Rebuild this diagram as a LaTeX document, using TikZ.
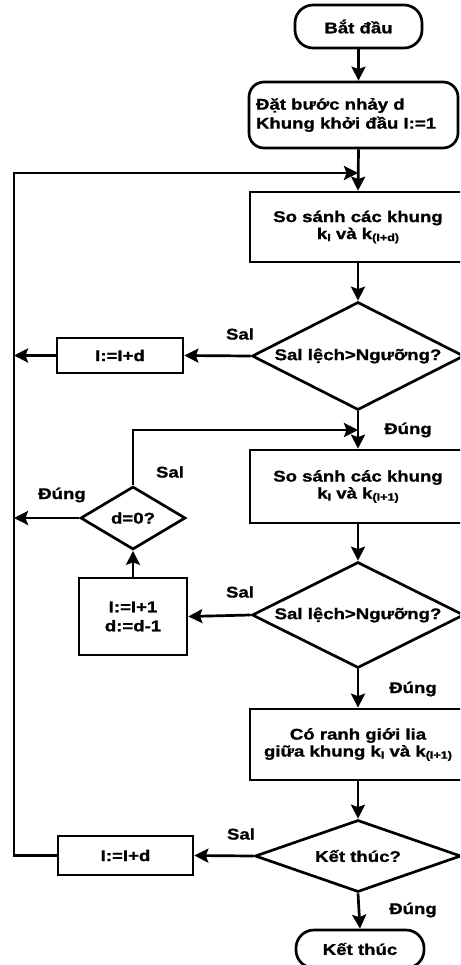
\documentclass[tikz,border=0pt]{standalone}
\usepackage{fontspec}
\setmainfont{Liberation Sans}[FakeStretch=1.2,FakeBold=1.2]
\usetikzlibrary{shapes.geometric,arrows.meta}
\newcommand{\mysub}[1]{\raisebox{-0.25ex}{\fontsize{10.5}{11}\selectfont #1}}
\begin{document}
\begin{tikzpicture}[x=1pt,y=-1pt,
  every node/.style={font=\bfseries\fontsize{15.5}{19}\selectfont},
  ln/.style={line width=2.7pt},
  arr/.style={line width=2.7pt,-{Stealth[length=14pt,width=14pt,inset=2.5pt]}},
  box/.style={draw,line width=2.7pt,rectangle,inner sep=0pt,align=center},
  term/.style={box,rounded corners=18pt},
  dec/.style={draw,line width=2.7pt,diamond,inner sep=0pt,shape aspect=2,align=center},
  lab/.style={inner sep=0pt}]
\clip (0,0) rectangle (460,965);
% main column
\node[term,minimum width=127,minimum height=43] (start) at (358.5,26.5) {Bắt đầu};
\node[box,rounded corners=15pt,minimum width=209,minimum height=66,align=left,text width=195] (init) at (353.5,115) {Đặt bước nhảy d\\Khung khởi đầu I:=1};
\node[box,minimum width=216,minimum height=70] (cmp1) at (358,227) {So sánh các khung\\[-2pt]k\mysub{I} và k\mysub{(I+d)}};
\node[dec,minimum width=212,minimum height=108] (dec1) at (358,356) {Sal lệch>Ngưỡng?};
\node[box,minimum width=216,minimum height=73] (cmp2) at (358,486.5) {So sánh các khung\\[-2pt]k\mysub{I} và k\mysub{(I+1)}};
\node[dec,minimum width=212,minimum height=106] (dec2) at (358,615) {Sal lệch>Ngưỡng?};
\node[box,minimum width=216,minimum height=71] (cut) at (358,744.5) {Có ranh giới lia\\[-2pt]giữa khung k\mysub{I} và k\mysub{(I+1)}};
\node[dec,minimum width=206,minimum height=72] (dec3) at (358,856) {Kết thúc?};
\node[term,minimum width=128,minimum height=38] (stop) at (360,949) {Kết thúc};
% left side
\node[box,minimum width=126,minimum height=35] (upd1) at (120,355.5) {I:=I+d};
\node[dec,minimum width=105,minimum height=63] (dz) at (133,518) {d=0?};
\node[box,minimum width=108,minimum height=77] (upd2) at (133,616.5) {I:=I+1\\d:=d-1};
\node[box,minimum width=135,minimum height=39] (upd3) at (125.5,855.5) {I:=I+d};
\coordinate (LT) at (14,173);
\coordinate (J1) at (358,173);
\coordinate (J2) at (358,430);
% labels
\node[lab] (s1) at (240,334) {Sal};
\node[lab] (s2) at (240,592) {Sal};
\node[lab] (s3) at (241,834) {Sal};
\node[lab] (s4) at (170,472) {Sal};
\node[lab] (d1) at (62,495) {Đúng};
\node[lab] (d2) at (408,430) {Đúng};
\node[lab] (d3) at (413,689) {Đúng};
\node[lab] (d4) at (413,910) {Đúng};
% connectors
\draw[arr] (start.south) -- (start.south |- init.north);
\draw[arr] (start.south |- init.south) -- (cmp1.north);
\draw[arr] (cmp1.south) -- (dec1.north);
\draw[arr] (dec1.south) -- (cmp2.north);
\draw[arr] (cmp2.south) -- (dec2.north);
\draw[arr] (dec2.south) -- (cut.north);
\draw[arr] (cut.south) -- (dec3.north);
\draw[arr] (dec3.south) -- (stop.north);
\draw[arr] (dec1.west) -- (upd1.east);
\draw[arr] (upd1.west) -- (upd1.west -| LT);
\draw[arr] (dec2.west) -- (upd2.east);
\draw[arr] (upd2.north) -- (dz.south);
\draw[arr] (dz.west) -- (dz.west -| LT);
\draw[arr] (dz.north) -- (dz.north |- J2) -- (J2);
\draw[arr] (dec3.west) -- (upd3.east);
\draw[arr,line join=miter] (upd3.west) -- (upd3.west -| LT) -- (LT) -- (J1);
\end{tikzpicture}
\end{document}
